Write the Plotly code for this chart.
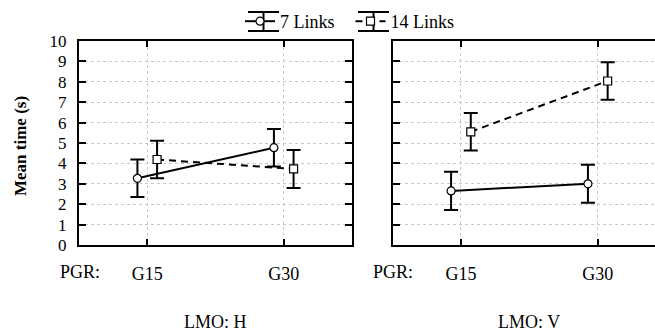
import plotly.graph_objects as go

categories = ["G15", "G30"]
panels = ["LMO: H", "LMO: V"]
series_names = ["7 Links", "14 Links"]
links7_H = [3.27, 4.77]
links14_H = [4.19, 3.73]
links7_V = [2.65, 3.00]
links14_V = [5.55, 8.04]
err7_H = [0.92, 0.92]
err14_H = [0.92, 0.93]
err7_V = [0.94, 0.93]
err14_V = [0.92, 0.92]
y_ticks = list(range(0, 11))

W, H = 655, 332
FONT = "Times New Roman"
off = 0.072
xs = list(range(len(categories)))

fig = go.Figure()

def add(xaxis, yaxis, vals, errs, name, sym, dash, show, shift, legend):
    fig.add_trace(go.Scatter(
        x=[x + shift for x in xs], y=vals, xaxis=xaxis, yaxis=yaxis,
        mode="lines+markers", name=name, showlegend=show, legend=legend,
        line=dict(color="black", width=2, dash=dash),
        marker=dict(symbol=sym, size=8, color="white", line=dict(color="black", width=1.2)),
        error_y=dict(type="data", array=errs, visible=True, color="black", thickness=2, width=7),
    ))

add("x", "y", links7_H, err7_H, series_names[0], "circle", "solid", True, -off, "legend")
add("x", "y", links14_H, err14_H, series_names[1], "square", "7px,5px", True, off, "legend2")
add("x2", "y2", links7_V, err7_V, series_names[0], "circle", "solid", False, -off, "legend")
add("x2", "y2", links14_V, err14_V, series_names[1], "square", "7px,5px", False, off, "legend2")

yb, yt = (H - 245) / H, (H - 41) / H
tf = dict(family=FONT, size=18, color="black")
common_x = dict(
    tickvals=xs, ticktext=categories, ticks="inside", ticklen=6, tickwidth=2, tickcolor="black",
    showline=True, linecolor="black", linewidth=2, mirror="ticks",
    showgrid=True, gridcolor="#c8c8c8", griddash="dot", gridwidth=1,
    zeroline=False, tickfont=tf, ticklabelstandoff=11, automargin=False,
)
common_y = dict(
    range=[0, 10], tickvals=y_ticks, ticks="inside", ticklen=7, tickwidth=2, tickcolor="black",
    showline=True, linecolor="black", linewidth=2,
    showgrid=True, gridcolor="#c8c8c8", griddash="dot", gridwidth=1,
    zeroline=False, tickfont=dict(family=FONT, size=17, color="black"),
    domain=[yb, yt], automargin=False,
)

# error-bar style frame for the legend symbols
shapes = []
for x0 in (248, 358):
    for yy in (12, 31):
        shapes.append(dict(type="line", xref="paper", yref="paper", x0=x0 / W, x1=(x0 + 31) / W,
                           y0=(H - yy) / H, y1=(H - yy) / H, line=dict(color="black", width=2)))
    shapes.append(dict(type="line", xref="paper", yref="paper", x0=(x0 + 15.5) / W, x1=(x0 + 15.5) / W,
                       y0=(H - 12) / H, y1=(H - 31) / H, line=dict(color="black", width=2)))

leg = dict(orientation="h", xanchor="left", yanchor="middle", y=(H - 21.5) / H,
           font=tf, bgcolor="rgba(0,0,0,0)", itemwidth=30, borderwidth=0)

fig.update_layout(
    width=W, height=H,
    font=dict(family=FONT, color="black"),
    margin=dict(l=0, r=0, t=0, b=0, autoexpand=False),
    paper_bgcolor="white", plot_bgcolor="white",
    xaxis=dict(domain=[79 / W, 352 / W], range=[-0.5, 1.5], anchor="y", **common_x),
    xaxis2=dict(domain=[392.5 / W, 1.0], range=[-0.5, 1.418], anchor="y2", **common_x),
    yaxis=dict(anchor="x", mirror="ticks", ticklabelstandoff=7, **common_y),
    yaxis2=dict(anchor="x2", mirror=False, showticklabels=False, **common_y),
    legend=dict(x=240 / W, **leg),
    legend2=dict(x=350.5 / W, **leg),
    showlegend=True,
    shapes=shapes,
    annotations=[
        dict(text="PGR:", x=80 / W, y=(H - 272) / H, xref="paper", yref="paper", showarrow=False,
             font=tf, xanchor="center", yanchor="middle"),
        dict(text="PGR:", x=393 / W, y=(H - 272) / H, xref="paper", yref="paper", showarrow=False,
             font=tf, xanchor="center", yanchor="middle"),
        dict(text=panels[0], x=215.5 / W, y=(H - 321.5) / H, xref="paper", yref="paper", showarrow=False,
             font=tf, xanchor="center", yanchor="middle"),
        dict(text=panels[1], x=529 / W, y=(H - 321.5) / H, xref="paper", yref="paper", showarrow=False,
             font=tf, xanchor="center", yanchor="middle"),
        dict(text="<b>Mean time (s)</b>", x=20 / W, y=(H - 146) / H, xref="paper", yref="paper",
             showarrow=False, textangle=-90,
             font=dict(family=FONT, size=17, color="black"), xanchor="center", yanchor="middle"),
    ],
)

fig.write_html("out.html", config={"displayModeBar": False},
               post_script="document.body.style.margin='0';")
